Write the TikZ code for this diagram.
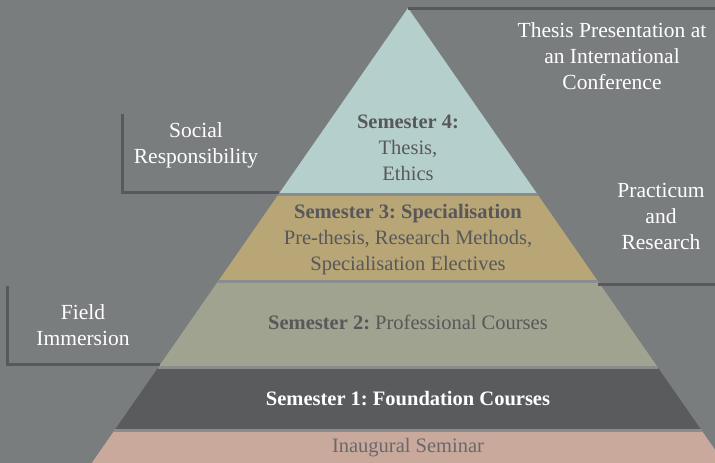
\documentclass[tikz,border=0pt]{standalone}
\usepackage{fontspec}
\setmainfont{Liberation Serif}
\frenchspacing
\definecolor{bgGray}{HTML}{7A7D7E}
\definecolor{lineGray}{HTML}{58595B}
\definecolor{gapGray}{HTML}{8A8D8D}
\definecolor{semFour}{HTML}{B5D0CC}
\definecolor{semThree}{HTML}{B8A677}
\definecolor{semTwo}{HTML}{A0A390}
\definecolor{semOne}{HTML}{5A5B5D}
\definecolor{semZero}{HTML}{C9A99B}
\definecolor{textGray}{HTML}{58585A}
\begin{document}
\begin{tikzpicture}[x=1pt, y=-1pt,
  label/.style={align=center, text=white, font=\fontsize{21.5}{26}\selectfont},
  layer/.style={align=center, text=textGray, font=\fontsize{20.5}{26}\selectfont},
  bracket/.style={draw=lineGray, line width=3pt},
  sep/.style={draw=gapGray, line width=3pt}]
  \fill[bgGray] (0,0) rectangle (715,463);
  \useasboundingbox (0,0) rectangle (715,463);
  % pyramid layers, edge x = 408 -/+ 0.695*(y-8)
  \foreach \t/\b/\c in {8/194.5/semFour, 194.5/281.5/semThree, 281.5/367.5/semTwo, 367.5/430.5/semOne, 430.5/475/semZero}
    \fill[\c] ({408-0.695*(\t-8)},\t) -- ({408+0.695*(\t-8)},\t) -- ({408+0.695*(\b-8)},\b) -- ({408-0.695*(\b-8)},\b) -- cycle;
  \foreach \y in {194.5, 281.5, 367.5, 430.5}
    \draw[sep] ({408-0.695*(\y-8)},\y) -- ({408+0.695*(\y-8)},\y);
  % brackets
  \coordinate (apex) at (408,8);
  \coordinate (topEnd) at (715,8);
  \coordinate (socTop) at (122,114);
  \coordinate (socEdge) at (279,192);
  \coordinate (fieldTop) at (7,286);
  \coordinate (fieldEdge) at (160,364);
  \coordinate (pracEdge) at (598,284);
  \coordinate (pracEnd) at (715,284);
  \draw[bracket] (apex) -- (topEnd);
  \draw[bracket] (socTop) |- (socEdge);
  \draw[bracket] (fieldTop) |- (fieldEdge);
  \draw[bracket] (pracEdge) -- (pracEnd);
  % texts
  \node[layer] (semFourText) at (408,148) {\textbf{Semester 4:}\\Thesis,\\Ethics};
  \node[layer] (semThreeText) at (408,240) {\textbf{Semester 3: Specialisation}\\Pre-thesis, Research Methods,\\Specialisation Electives};
  \node[layer] (semTwoText) at (408,322) {\textbf{Semester 2:} Professional Courses};
  \node[layer, text=white] (semOneText) at (408,399) {\textbf{Semester 1: Foundation Courses}};
  \node[layer, text=textGray!90!white] (seminarText) at (408,448) {Inaugural Seminar};
  \node[label] (confText) at (612,56) {Thesis Presentation at\\an International\\Conference};
  \node[label] (pracText) at (661,216) {Practicum\\and\\Research};
  \node[label] (socText) at (196,145) {Social\\Responsibility};
  \node[label] (fieldText) at (83,325) {Field\\Immersion};
\end{tikzpicture}
\end{document}
